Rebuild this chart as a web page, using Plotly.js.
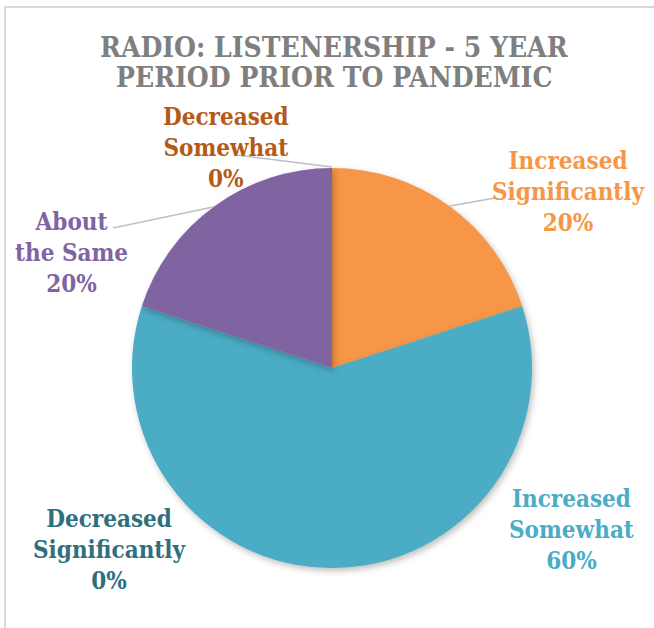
<!DOCTYPE html>
<html>
<head>
<meta charset="utf-8">
<script src="https://cdn.plot.ly/plotly-3.0.1.min.js"></script>
<style>
  html, body { margin: 0; padding: 0; background: #fff; overflow: hidden; }
  #wrap { position: relative; width: 654px; height: 628px; }
  #frame { position: absolute; left: 4px; top: 6px; width: 700px; height: 700px;
           border-top: 2px solid #d9d9d9; border-left: 2px solid #d9d9d9; box-sizing: border-box; }
  #chart { position: absolute; left: 0; top: 0; width: 654px; height: 628px; }
  .pielayer .slice path { filter: drop-shadow(2px 3px 3px rgba(0,0,0,0.25)); }
</style>
</head>
<body>
<div id="wrap"><div id="frame"></div><div id="chart"></div></div>
<script>
// ---- data ----
const categories = ["Increased Significantly", "Increased Somewhat", "About the Same", "Decreased Somewhat", "Decreased Significantly"];
const labelLines = ["Increased<br>Significantly", "Increased<br>Somewhat", "About<br>the Same", "Decreased<br>Somewhat", "Decreased<br>Significantly"];
const values = [20, 60, 20, 0, 0];
const sliceColors = ["#F79646", "#4BACC6", "#8064A2", "#C0651C", "#31859C"];
const labelColors = ["#F79646", "#4BACC6", "#8064A2", "#B45A16", "#2F6F80"];
const titleLines = ["RADIO: LISTENERSHIP - 5 YEAR", "PERIOD PRIOR TO PANDEMIC"];

// ---- layout helpers (pixel -> paper) ----
const W = 654, H = 628;
const px = x => x / W;
const py = y => 1 - y / H;
const FONT = "DejaVu Serif Condensed, DejaVu Serif, serif";

const total = values.reduce((a, b) => a + b, 0);
const pct = values.map(v => Math.round(v / total * 100) + "%");

// label placement (pixel centers of the middle text line)
const labelPos = [[569, 191], [571, 529], [71, 253], [226, 147], [110, 549]];

const annotations = [];
titleLines.forEach((t, i) => {
  annotations.push({
    text: t, x: px(334), y: py(48 + i * 29), xref: "paper", yref: "paper",
    xanchor: "center", yanchor: "middle", showarrow: false,
    font: { family: FONT, size: 28, color: "#7F7F7F", weight: "bold" }
  });
});
categories.forEach((c, i) => {
  annotations.push({
    text: "<b>" + labelLines[i] + "<br>" + pct[i] + "</b>",
    x: px(labelPos[i][0]), y: py(labelPos[i][1]), xref: "paper", yref: "paper",
    xanchor: "center", yanchor: "middle", showarrow: false, align: "center",
    font: { family: FONT, size: 24, color: labelColors[i] }
  });
});

// leader lines (decorative)
const leaders = [[[450, 206], [495, 198]], [[213, 207], [113, 228]], [[332, 167], [237, 155]]];
const shapes = leaders.map(l => ({
  type: "line", xref: "paper", yref: "paper",
  x0: px(l[0][0]), y0: py(l[0][1]), x1: px(l[1][0]), y1: py(l[1][1]),
  line: { color: "#BFBFBF", width: 1.5 }
}));

const trace = {
  type: "pie",
  labels: categories,
  values: values,
  sort: false,
  direction: "clockwise",
  rotation: 0,
  textinfo: "none",
  hoverinfo: "label+percent",
  marker: { colors: sliceColors, line: { width: 0 } },
  domain: { x: [px(132), px(532)], y: [py(568), py(168)] },
  showlegend: false
};

const layout = {
  width: W, height: H,
  margin: { l: 0, r: 0, t: 0, b: 0 },
  paper_bgcolor: "rgba(0,0,0,0)",
  plot_bgcolor: "rgba(0,0,0,0)",
  showlegend: false,
  annotations: annotations,
  shapes: shapes
};

Plotly.newPlot("chart", [trace], layout, { displayModeBar: false, staticPlot: true });
</script>
</body>
</html>
